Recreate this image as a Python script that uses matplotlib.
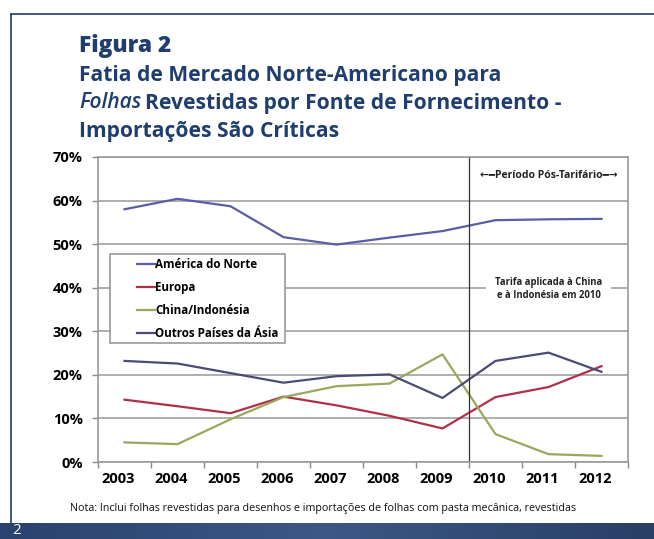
import numpy as np
import matplotlib
matplotlib.use('Agg')
import matplotlib.pyplot as plt
import matplotlib.transforms as mtransforms
from matplotlib.colors import LinearSegmentedColormap
from matplotlib.patches import Rectangle
from matplotlib.ticker import FixedLocator, NullFormatter

plt.rcParams['font.family'] = ['Open Sans', 'DejaVu Sans']

# dados
anos = ['2003', '2004', '2005', '2006', '2007', '2008', '2009', '2010', '2011', '2012']
america_norte = [58.0, 60.4, 58.7, 51.6, 49.9, 51.5, 53.0, 55.5, 55.7, 55.8]
europa = [14.3, 12.8, 11.2, 15.0, 13.0, 10.6, 7.7, 14.9, 17.2, 22.0]
china_indonesia = [4.5, 4.1, 9.8, 14.9, 17.4, 18.0, 24.7, 6.4, 1.8, 1.4]
outros_asia = [23.2, 22.6, 20.4, 18.2, 19.7, 20.1, 14.7, 23.2, 25.1, 20.7]
yticks = [0, 10, 20, 30, 40, 50, 60, 70]

AZUL = '#1f3d6e'
GRID = '#a8a8a8'
W, H = 654, 539

fig = plt.figure(figsize=(W / 100, H / 100), dpi=100)
renderer = fig.canvas.get_renderer()


def fx(px):
    return px / W


def fy(py):
    return 1 - py / H


def ajusta(t, largura):
    # ajusta o tamanho da fonte para a largura medida na referência
    w = t.get_window_extent(renderer).width
    t.set_fontsize(t.get_fontsize() * largura / w)
    return t


# moldura da página
fig.add_artist(plt.Line2D([fx(11), 1], [fy(14)] * 2, color=AZUL, lw=1.2))
fig.add_artist(plt.Line2D([fx(11)] * 2, [fy(523), fy(14)], color=AZUL, lw=1.2))
ax_band = fig.add_axes([0, 0, 1, 16 / H])
ax_band.imshow(np.linspace(0, 1, 256).reshape(1, -1), aspect='auto',
               cmap=LinearSegmentedColormap.from_list('faixa', ['#2a4270', '#3b5886', '#2a3f66']),
               extent=[0, 1, 0, 1])
ax_band.axis('off')
fig.text(fx(12), fy(531), '2', color='white', fontsize=11, va='center', ha='left')

# títulos
t = fig.text(fx(79), fy(46), 'Figura 2', color=AZUL, fontsize=16, fontweight='heavy',
             va='center', ha='left')
ajusta(t, 92)
t_imp = fig.text(fx(79), fy(131), 'Importações São Críticas', color=AZUL,
                 fontsize=15, fontweight='bold', va='center', ha='left')
ajusta(t_imp, 259)
fs = t_imp.get_fontsize()
fig.text(fx(79), fy(75), 'Fatia de Mercado Norte-Americano para', color=AZUL,
         fontsize=fs, fontweight='bold', va='center', ha='left')
t = fig.text(fx(79), fy(103), 'Folhas', color=AZUL, fontsize=fs, style='italic',
             fontweight='semibold', va='center', ha='left')
bb = t.get_window_extent(renderer)
fig.text(fx(bb.x1 + 4), fy(103), 'Revestidas por Fonte de Fornecimento -', color=AZUL,
         fontsize=fs, fontweight='bold', va='center', ha='left')

# gráfico
ax = fig.add_axes([fx(98), fy(462), (628 - 98) / W, (462 - 157) / H])
x = np.arange(len(anos))
ax.plot(x, america_norte, color='#5b5ea6', lw=1.6, label='América do Norte')
ax.plot(x, europa, color='#b0304a', lw=1.6, label='Europa')
ax.plot(x, china_indonesia, color='#98a85c', lw=1.6, label='China/Indonésia')
ax.plot(x, outros_asia, color='#4b4b78', lw=1.6, label='Outros Países da Ásia')

ax.set_xlim(-0.5, len(anos) - 0.5)
ax.set_ylim(0, 70)
ax.set_yticks(yticks)
ax.set_yticklabels([f'{v}%' for v in yticks])
ax.set_xticks(x)
ax.set_xticklabels(anos)
ax.xaxis.set_minor_locator(FixedLocator(np.arange(-0.5, len(anos), 1)))
ax.xaxis.set_minor_formatter(NullFormatter())
ax.tick_params(axis='x', which='major', length=0, pad=7, labelsize=10.5)
ax.tick_params(axis='x', which='minor', length=4, color='#888888', width=1)
ax.tick_params(axis='y', length=4, color='#888888', width=1, pad=7, labelsize=10.5)
desloc = mtransforms.ScaledTranslation(-6 / 100, 0, fig.dpi_scale_trans)
for lab in ax.get_xticklabels():
    lab.set_fontweight('bold')
    lab.set_transform(lab.get_transform() + desloc)
for lab in ax.get_yticklabels():
    lab.set_fontweight('bold')
ax.grid(axis='y', color=GRID, lw=1.3)
ax.set_axisbelow(True)
for s in ax.spines.values():
    s.set_color('#9a9a9a')
    s.set_linewidth(1.2)

# fronteira da tarifa
ax.axvline(6.5, color='#333333', lw=0.9)
t = ax.text(8.0, 65.7, '\u2190\u2501Período Pós-Tarifário\u2501\u2192', fontsize=8,
            fontweight='bold', ha='center', va='center', color='#222222')
ajusta(t, 138)
t = ax.text(8.0, 39.7, 'Tarifa aplicada à China\ne à Indonésia em 2010', fontsize=8,
            fontweight='bold', ha='center', va='center', color='#222222', linespacing=1.15,
            bbox=dict(facecolor='white', edgecolor='none', pad=7))
ajusta(t, 108)

# legenda com moldura própria (caixa larga, como na referência)
ax.add_patch(Rectangle((fx(110), fy(343)), (285 - 110) / W, (343 - 254) / H,
                       transform=fig.transFigure, facecolor='white', edgecolor='#999999',
                       lw=1.2, zorder=1.5, clip_on=False))
leg = ax.legend(loc='upper left', bbox_to_anchor=(fx(137), fy(258)),
                bbox_transform=fig.transFigure, frameon=False,
                borderaxespad=0, borderpad=0, handlelength=1.6, handletextpad=0.05,
                labelspacing=0.9, prop={'size': 8, 'weight': 'bold'})
txt = leg.get_texts()[-1]
fs_leg = 8 * 124 / txt.get_window_extent(renderer).width
for tt in leg.get_texts():
    tt.set_fontsize(fs_leg)

t = fig.text(fx(323), fy(509),
             'Nota: Inclui folhas revestidas para desenhos e importações de folhas com pasta mecânica, revestidas',
             fontsize=8, ha='center', va='center', color='#111111')
ajusta(t, 509)

fig.savefig('out.png', dpi=100)
